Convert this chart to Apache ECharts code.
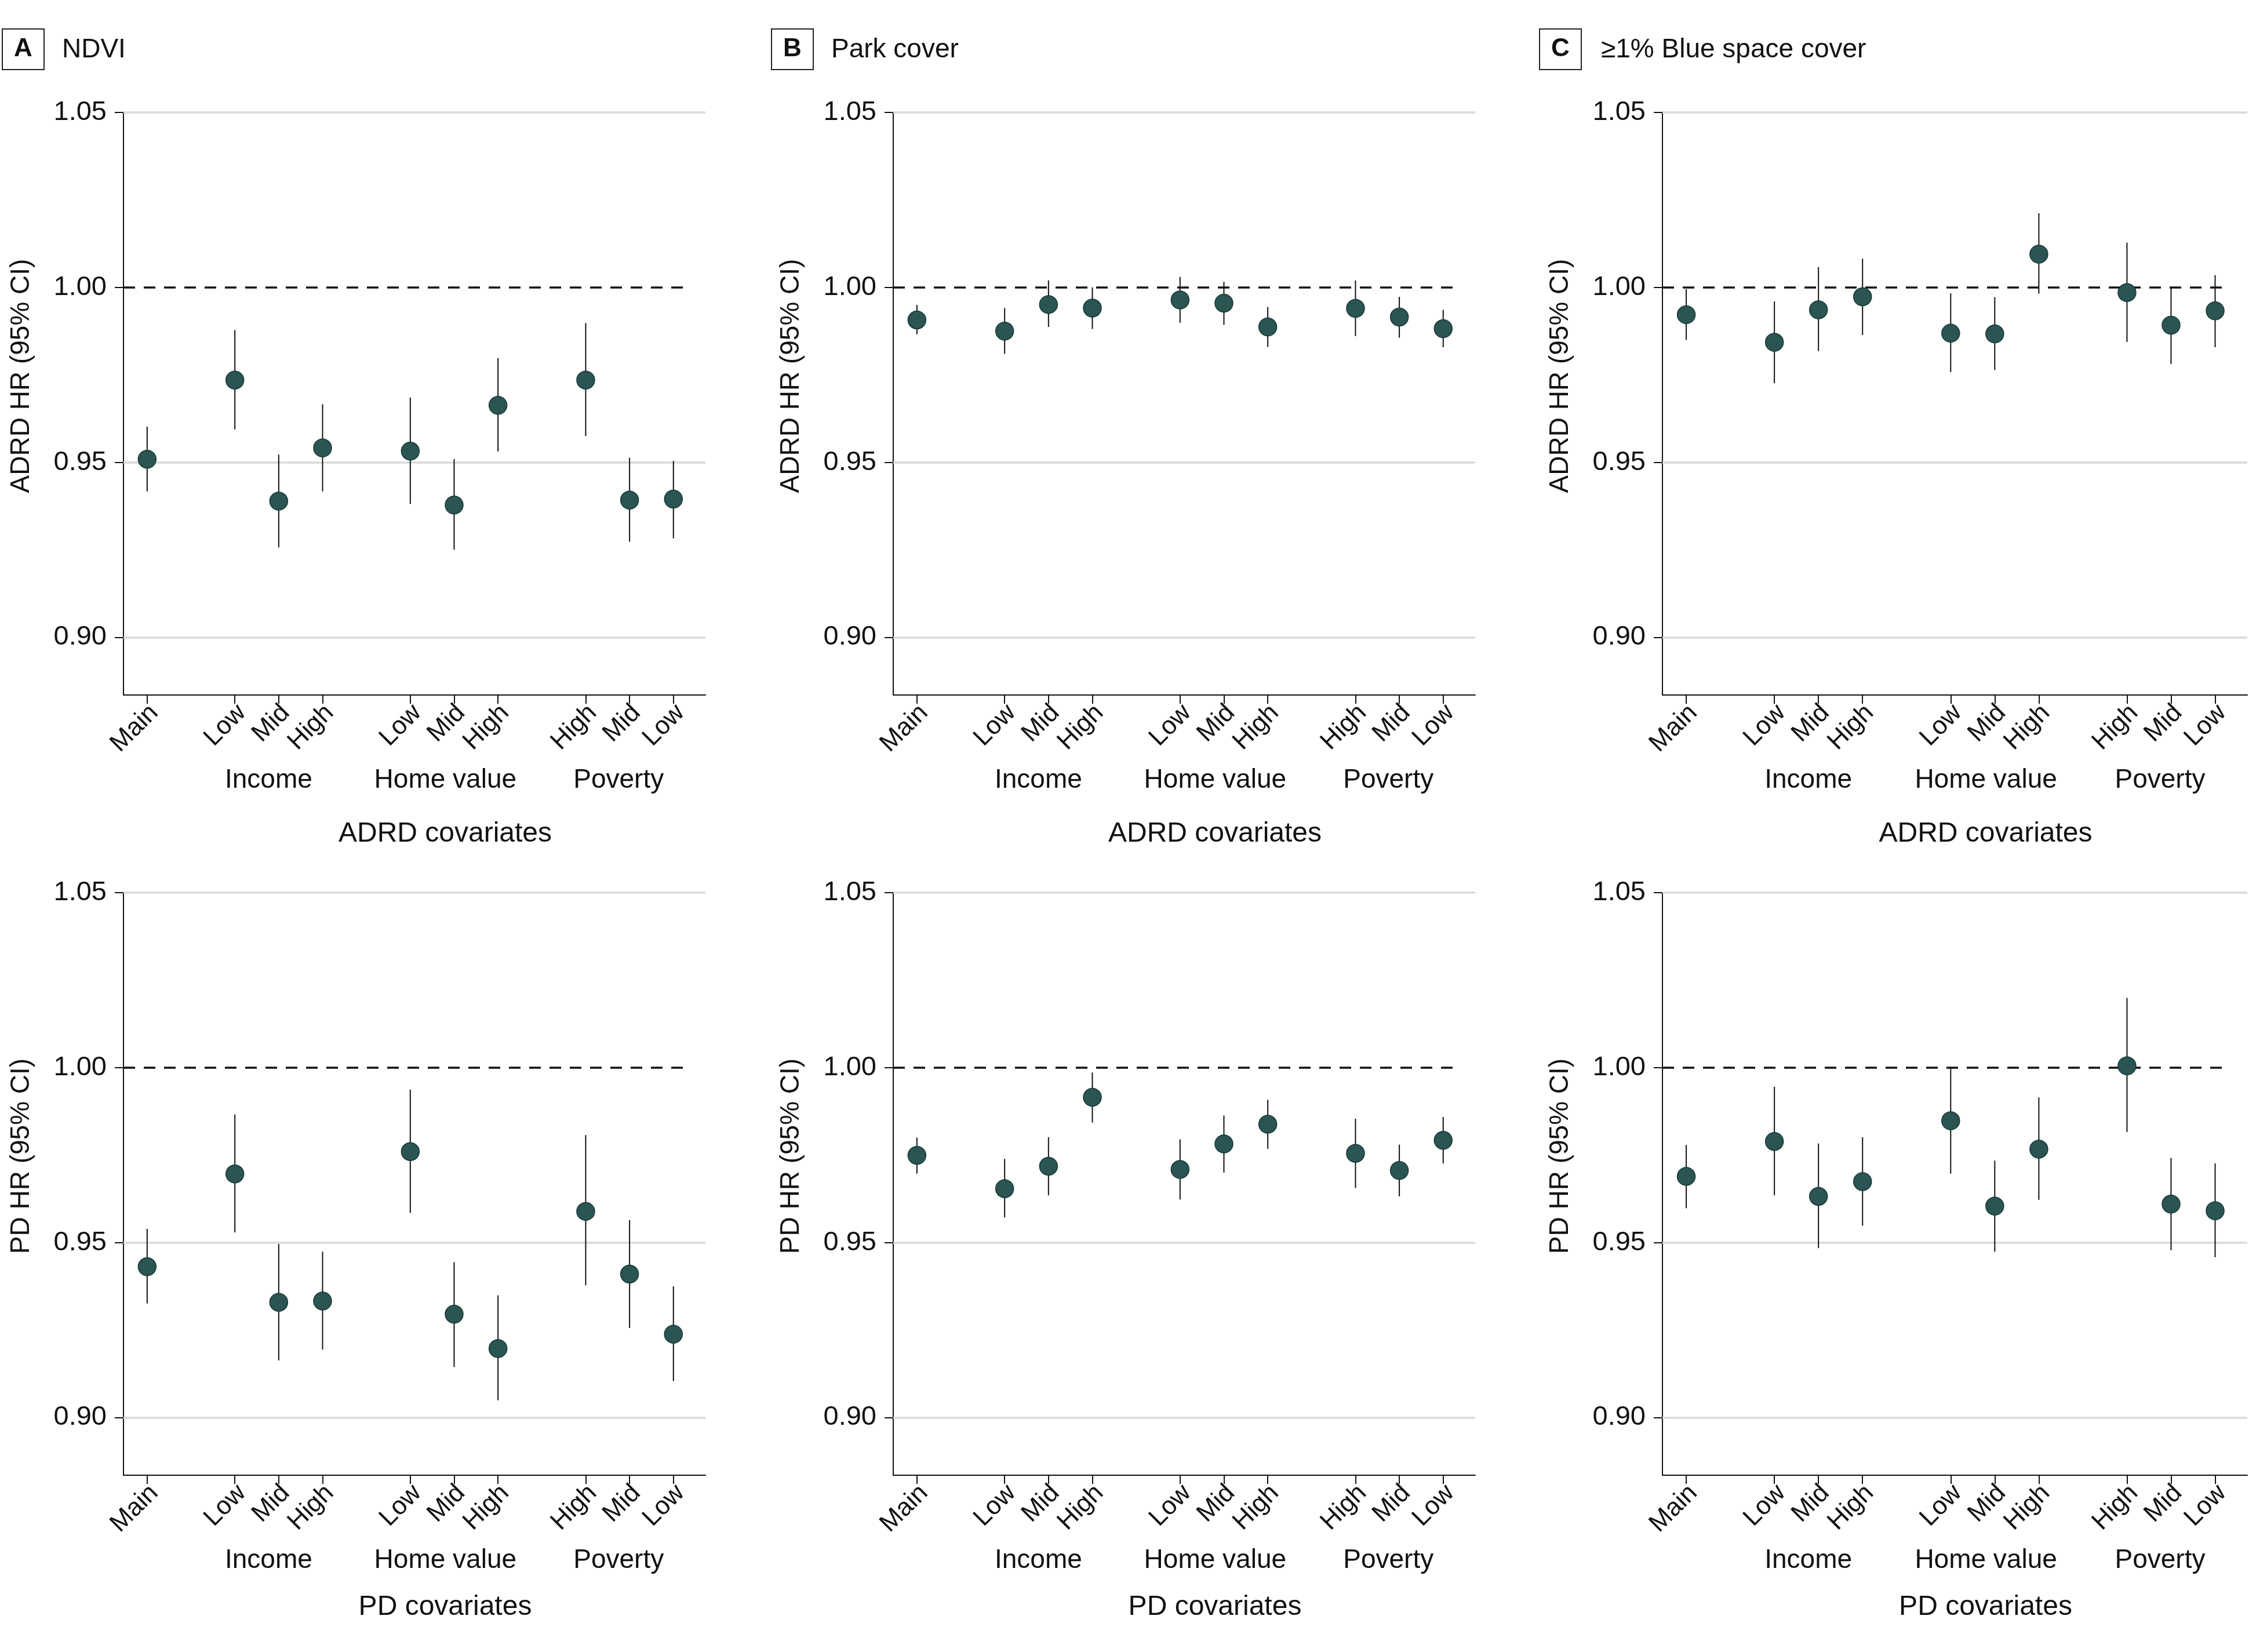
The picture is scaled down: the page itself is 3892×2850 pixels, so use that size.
<!DOCTYPE html>
<html>
<head>
<meta charset="utf-8">
<script src="https://cdn.jsdelivr.net/npm/echarts@6/dist/echarts.min.js"></script>
<style>
html, body { margin: 0; padding: 0; background: #fff; }
#chart { width: 3892px; height: 2850px; }
</style>
</head>
<body>
<div id="chart"></div>
<script>
// x position of each model (gaps between covariate groups)
var positions = [0, 2, 3, 4, 6, 7, 8, 10, 11, 12];
var tickLabels = ['Main', 'Low', 'Mid', 'High', 'Low', 'Mid', 'High', 'High', 'Mid', 'Low'];
var groupNames = ['Income', 'Home value', 'Poverty'];
var groupPos = [2.77, 6.8, 10.75];
var yTicks = [0.90, 0.95, 1.00, 1.05];

// A NDVI - ADRD
var ndviAdrdHr = [0.9509, 0.9735, 0.9389, 0.9541, 0.9532, 0.9378, 0.9663, 0.9735, 0.9392, 0.9395];
var ndviAdrdLo = [0.9417, 0.9594, 0.9257, 0.9417, 0.9381, 0.9250, 0.9531, 0.9575, 0.9273, 0.9283];
var ndviAdrdHi = [0.9602, 0.9878, 0.9522, 0.9666, 0.9685, 0.9509, 0.9798, 0.9898, 0.9513, 0.9504];
// B Park cover - ADRD
var parkAdrdHr = [0.9907, 0.9875, 0.9951, 0.9941, 0.9964, 0.9955, 0.9887, 0.9940, 0.9915, 0.9882];
var parkAdrdLo = [0.9866, 0.9810, 0.9887, 0.9881, 0.9899, 0.9893, 0.9830, 0.9861, 0.9856, 0.9829];
var parkAdrdHi = [0.9950, 0.9941, 1.0020, 1.0000, 1.0030, 1.0016, 0.9944, 1.0020, 0.9973, 0.9936];
// C Blue space - ADRD
var blueAdrdHr = [0.9922, 0.9843, 0.9936, 0.9973, 0.9869, 0.9867, 1.0095, 0.9985, 0.9892, 0.9933];
var blueAdrdLo = [0.9850, 0.9726, 0.9818, 0.9864, 0.9758, 0.9764, 0.9982, 0.9844, 0.9781, 0.9829];
var blueAdrdHi = [0.9995, 0.9960, 1.0058, 1.0082, 0.9983, 0.9972, 1.0212, 1.0128, 1.0002, 1.0035];
// A NDVI - PD
var ndviPdHr = [0.9431, 0.9696, 0.9329, 0.9333, 0.9760, 0.9295, 0.9197, 0.9589, 0.9410, 0.9238];
var ndviPdLo = [0.9326, 0.9529, 0.9163, 0.9194, 0.9585, 0.9144, 0.9049, 0.9378, 0.9256, 0.9104];
var ndviPdHi = [0.9539, 0.9866, 0.9496, 0.9474, 0.9937, 0.9444, 0.9349, 0.9807, 0.9564, 0.9375];
// B Park cover - PD
var parkPdHr = [0.9749, 0.9654, 0.9718, 0.9915, 0.9709, 0.9782, 0.9838, 0.9755, 0.9706, 0.9792];
var parkPdLo = [0.9697, 0.9572, 0.9635, 0.9843, 0.9623, 0.9700, 0.9768, 0.9656, 0.9632, 0.9726];
var parkPdHi = [0.9800, 0.9739, 0.9801, 0.9986, 0.9795, 0.9863, 0.9908, 0.9854, 0.9780, 0.9859];
// C Blue space - PD
var bluePdHr = [0.9689, 0.9789, 0.9632, 0.9674, 0.9848, 0.9604, 0.9767, 1.0005, 0.9610, 0.9591];
var bluePdLo = [0.9598, 0.9635, 0.9484, 0.9548, 0.9697, 0.9474, 0.9622, 0.9816, 0.9478, 0.9458];
var bluePdHi = [0.9779, 0.9945, 0.9783, 0.9801, 1.0001, 0.9734, 0.9915, 1.0199, 0.9742, 0.9726];

var letters = ['A', 'B', 'C'];
var panelTitles = ['NDVI', 'Park cover', '\u22651% Blue space cover'];

var FONT = '"Liberation Sans", Arial, sans-serif';
var INK = '#111';
var X_MIN = -0.54, X_MAX = 12.73, Y_MIN = 0.8835, Y_MAX = 1.05;
var LABEL_SHIFT = 0.16, DASH_END = 12.25;

var panels = [
  {outcome: 'ADRD', hr: ndviAdrdHr, lo: ndviAdrdLo, hi: ndviAdrdHi, left: 213, top: 194, width: 1004, nameGap: 216},
  {outcome: 'ADRD', hr: parkAdrdHr, lo: parkAdrdLo, hi: parkAdrdHi, left: 1541, top: 194, width: 1004, nameGap: 216},
  {outcome: 'ADRD', hr: blueAdrdHr, lo: blueAdrdLo, hi: blueAdrdHi, left: 2868, top: 194, width: 1009, nameGap: 216},
  {outcome: 'PD', hr: ndviPdHr, lo: ndviPdLo, hi: ndviPdHi, left: 213, top: 1540, width: 1004, nameGap: 204},
  {outcome: 'PD', hr: parkPdHr, lo: parkPdLo, hi: parkPdHi, left: 1541, top: 1540, width: 1004, nameGap: 204},
  {outcome: 'PD', hr: bluePdHr, lo: bluePdLo, hi: bluePdHi, left: 2868, top: 1540, width: 1009, nameGap: 204}
];
var letterLeft = [4, 1331, 2656];
var titleLeft = [107, 1434, 2762];

function tickName(v) {
  for (var k = 0; k < positions.length; k++) {
    if (Math.abs(positions[k] + LABEL_SHIFT - v) < 1e-6) return tickLabels[k];
  }
  return '';
}
function groupName(v) {
  for (var k = 0; k < groupPos.length; k++) {
    if (Math.abs(groupPos[k] - v) < 1e-6) return groupNames[k];
  }
  return '';
}
function renderBar(params, api) {
  var x = api.value(0);
  var a = api.coord([x, api.value(1)]);
  var b = api.coord([x, api.value(2)]);
  return {
    type: 'line',
    shape: {x1: a[0], y1: a[1], x2: b[0], y2: b[1]},
    style: {stroke: INK, lineWidth: 2}
  };
}

var grid = [], xAxis = [], yAxis = [], series = [], title = [];
var gridLine = {color: '#d9d9d9', width: 3.5, type: 'solid'};

panels.forEach(function (p, i) {
  grid.push({left: p.left, top: p.top, width: p.width, height: 1005, outerBoundsMode: 'none'});
  xAxis.push({
    type: 'value', gridIndex: i, position: 'bottom', min: X_MIN, max: X_MAX,
    axisLine: {show: true, onZero: false, lineStyle: {color: INK, width: 2}},
    axisTick: {show: true, customValues: positions, length: 15, lineStyle: {color: INK, width: 2}},
    axisLabel: {
      customValues: positions.map(function (v) { return v + LABEL_SHIFT; }),
      rotate: 45, margin: 24, fontSize: 44, fontFamily: FONT, color: INK,
      formatter: tickName
    },
    splitLine: {show: false}
  });
  xAxis.push({
    type: 'value', gridIndex: i, position: 'bottom', min: X_MIN, max: X_MAX,
    axisLine: {show: false}, axisTick: {show: false}, splitLine: {show: false},
    axisLabel: {
      customValues: groupPos, margin: 124, fontSize: 46, lineHeight: 46,
      fontFamily: FONT, color: INK, formatter: groupName
    },
    name: p.outcome + ' covariates', nameLocation: 'middle', nameGap: p.nameGap,
    nameTextStyle: {fontSize: 48, lineHeight: 48, fontFamily: FONT, color: INK, padding: [0, 0, 0, 106]}
  });
  yAxis.push({
    type: 'value', gridIndex: i, min: Y_MIN, max: Y_MAX,
    axisLine: {show: true, onZero: false, lineStyle: {color: INK, width: 2}},
    axisTick: {show: true, customValues: yTicks, length: 15, lineStyle: {color: INK, width: 2}},
    axisLabel: {
      customValues: yTicks, margin: 29, fontSize: 47, fontFamily: FONT, color: INK,
      formatter: function (v) { return v.toFixed(2); }
    },
    splitLine: {show: false},
    name: p.outcome + ' HR (95% CI)', nameLocation: 'middle', nameGap: 153,
    nameTextStyle: {fontSize: 46, lineHeight: 46, fontFamily: FONT, color: INK, padding: [0, 0, 0, 96]}
  });
  series.push({
    type: 'custom', xAxisIndex: 2 * i, yAxisIndex: i, z: 2,
    renderItem: renderBar,
    encode: {x: 0, y: [1, 2]},
    data: positions.map(function (x, k) { return [x, p.lo[k], p.hi[k]]; }),
    markLine: {
      silent: true, symbol: 'none', z: 1, animation: false,
      label: {show: false},
      data: [
        {yAxis: yTicks[0], lineStyle: gridLine},
        {yAxis: yTicks[1], lineStyle: gridLine},
        {yAxis: yTicks[3], lineStyle: gridLine},
        [
          {coord: [X_MIN, yTicks[2]], lineStyle: {color: INK, width: 3.5, type: [20, 15]}},
          {coord: [DASH_END, yTicks[2]]}
        ]
      ]
    }
  });
  series.push({
    type: 'scatter', xAxisIndex: 2 * i, yAxisIndex: i, z: 3,
    symbolSize: 31,
    itemStyle: {color: '#2a5553', borderColor: '#183634', borderWidth: 1.5, opacity: 1},
    data: positions.map(function (x, k) { return [x, p.hr[k]]; })
  });
});

letters.forEach(function (l, i) {
  title.push({
    text: l, left: letterLeft[i], top: 50, padding: [12, 20, 12, 20],
    borderColor: '#222', borderWidth: 2,
    textStyle: {fontFamily: FONT, fontSize: 44, lineHeight: 46, fontWeight: 'bold', color: INK}
  });
  title.push({
    text: panelTitles[i], left: titleLeft[i], top: 63, padding: 0,
    textStyle: {fontFamily: FONT, fontSize: 46, lineHeight: 46, fontWeight: 'normal', color: INK}
  });
});

var myChart = echarts.init(document.getElementById('chart'), null, {renderer: 'canvas'});
myChart.setOption({
  backgroundColor: '#fff',
  animation: false,
  title: title,
  grid: grid,
  xAxis: xAxis,
  yAxis: yAxis,
  series: series
});
</script>
</body>
</html>
